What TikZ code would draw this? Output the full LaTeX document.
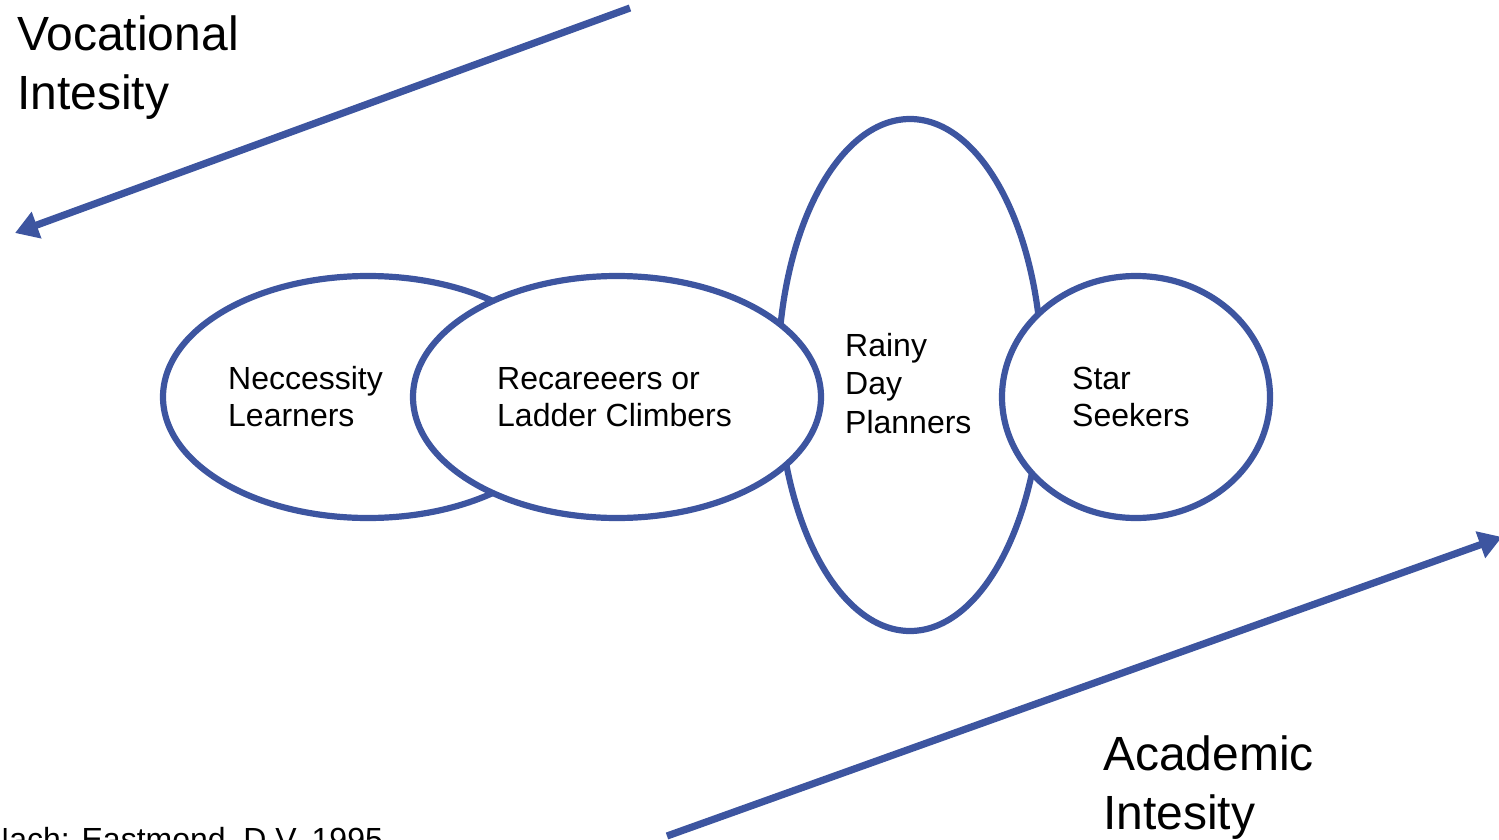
\documentclass[tikz,border=0pt]{standalone}
\usepackage{fontspec}
\setmainfont{Liberation Sans}
\usetikzlibrary{shapes.geometric,arrows.meta}
\definecolor{ringblue}{RGB}{61,85,160}
\begin{document}
\begin{tikzpicture}[x=1pt,y=-1pt,
  ring/.style={ellipse,draw=ringblue,line width=6.2pt,fill=white,inner sep=0pt},
  lbl/.style={anchor=base west,align=left,inner sep=0pt,font=\fontsize{32}{37}\selectfont},
  biglbl/.style={anchor=base west,align=left,inner sep=0pt,font=\fontsize{48}{59}\selectfont},
  axis/.style={draw=ringblue,line width=7.2pt,-{Triangle[length=23pt,width=27pt]}}]
\useasboundingbox (0,0) rectangle (1499,840);
% ellipses (drawing order matters)
\node[ring,minimum width=410pt,minimum height=242pt] (nl) at (368,397) {};
\node[ring,minimum width=264pt,minimum height=512pt] (rd) at (910,375) {};
\node[ring,minimum width=408pt,minimum height=242pt] (rl) at (617,397) {};
\node[ring,minimum width=268pt,minimum height=242pt] (ss) at (1136,397) {};
% labels (anchor = baseline of last line)
\node[lbl] (tnl) at (228,426) {Neccessity\\Learners};
\node[lbl] (trl) at (497,426) {Recareeers or\\Ladder Climbers};
\node[lbl,font=\fontsize{32}{38.5}\selectfont] (trd) at (845,433) {Rainy\\Day\\Planners};
\node[lbl] (tss) at (1072,426) {Star\\Seekers};
% axis arrows
\coordinate (v0) at (630,8);
\coordinate (v1) at (15,233);
\coordinate (a0) at (667,836);
\coordinate (a1) at (1502,537);
\draw[axis] (v0) -- (v1);
\draw[axis] (a0) -- (a1);
\node[biglbl] (voc) at (17,110) {Vocational\\Intesity};
\node[biglbl] (aca) at (1103,829) {Academic\\Intesity};
\node[lbl,font=\fontsize{32}{37}\selectfont] (src) at (-14,850) {Nach: Eastmond, D.V. 1995};
\end{tikzpicture}
\end{document}
